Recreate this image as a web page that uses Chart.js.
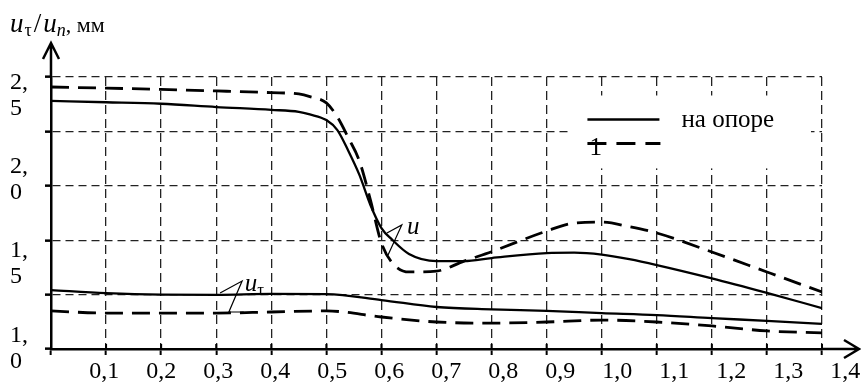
<!DOCTYPE html>
<html>
<head>
<meta charset="utf-8">
<script src="https://cdn.jsdelivr.net/npm/chart.js@4.4.0/dist/chart.umd.min.js"></script>
<style>
html, body { margin: 0; padding: 0; background: #fff; }
canvas { display: block; }
</style>
</head>
<body>
<canvas id="chart" width="861" height="390"></canvas>
<script>
// x = distance, y = displacement (internal units, gridlines every 0.25)
var xU = [0, 0.1, 0.2, 0.3, 0.4, 0.45, 0.47, 0.5, 0.52, 0.54, 0.56, 0.58, 0.6, 0.62, 0.65, 0.7, 0.75, 0.8, 0.9, 0.95, 1.0, 1.05, 1.1, 1.2, 1.3, 1.4];
var uSolid = [2.14, 2.134, 2.127, 2.112, 2.099, 2.09, 2.078, 2.052, 2.006, 1.91, 1.80, 1.662, 1.556, 1.501, 1.437, 1.404, 1.404, 1.418, 1.441, 1.443, 1.434, 1.413, 1.386, 1.325, 1.258, 1.188];
var uDashed = [2.204, 2.199, 2.193, 2.186, 2.178, 2.172, 2.16, 2.131, 2.066, 1.97, 1.864, 1.685, 1.487, 1.395, 1.354, 1.358, 1.404, 1.447, 1.542, 1.579, 1.583, 1.562, 1.533, 1.446, 1.354, 1.262];

var xTau = [0, 0.1, 0.2, 0.3, 0.4, 0.5, 0.6, 0.7, 0.8, 0.9, 1.0, 1.1, 1.2, 1.3, 1.4];
var tauSolid = [1.271, 1.257, 1.25, 1.249, 1.253, 1.252, 1.225, 1.193, 1.182, 1.175, 1.165, 1.156, 1.142, 1.129, 1.115];
var tauDashed = [1.175, 1.165, 1.165, 1.165, 1.170, 1.175, 1.147, 1.124, 1.119, 1.124, 1.133, 1.124, 1.106, 1.083, 1.074];

var xGridVals = [0, 0.1, 0.2, 0.3, 0.4, 0.5, 0.6, 0.7, 0.8, 0.9, 1.0, 1.1, 1.2, 1.3, 1.4];
var xLabels = ['0,1', '0,2', '0,3', '0,4', '0,5', '0,6', '0,7', '0,8', '0,9', '1,0', '1,1', '1,2', '1,3', '1,4'];
var yGridVals = [1.0, 1.25, 1.5, 1.75, 2.0, 2.25];
var yLabelVals = [1.0, 1.393, 1.779, 2.165];
var yLabels = [['1,', '0'], ['1,', '5'], ['2,', '0'], ['2,', '5']];
var legendLabels = ['на опоре', '1'];

var SERIF = '"Liberation Serif", "Times New Roman", serif';

// labels in the source are spread a bit wider than the grid
var xLabelVals = xLabels.map(function (t, i) { return (i + 1) / 10 * 1.035 - 0.007; });

function pts(xs, ys) {
    return xs.map(function (x, i) { return { x: x, y: ys[i] }; });
}

function isIn(list, v) {
    return list.indexOf(v) !== -1;
}

var decorPlugin = {
    id: 'decor',
    afterDatasetsDraw: function (chart) {
        var ctx = chart.ctx;
        var xs = chart.scales.x, ys = chart.scales.y;
        function P(x, y) { return [xs.getPixelForValue(x), ys.getPixelForValue(y)]; }
        ctx.save();

        // legend box
        var lx = xs.getPixelForValue(0.945), rx = xs.getPixelForValue(1.38);
        var ty = ys.getPixelForValue(2.165), by = ys.getPixelForValue(1.83);
        ctx.fillStyle = '#fff';
        ctx.fillRect(lx, ty, rx - lx, by - ty);
        ctx.strokeStyle = '#000';
        ctx.lineWidth = 2.5;
        ctx.beginPath();
        ctx.moveTo(lx + 16, ty + 24);
        ctx.lineTo(lx + 88, ty + 24);
        ctx.stroke();
        ctx.lineWidth = 3;
        ctx.setLineDash([19, 10]);
        ctx.beginPath();
        ctx.moveTo(lx + 16, ty + 48);
        ctx.lineTo(lx + 89, ty + 48);
        ctx.stroke();
        ctx.setLineDash([]);
        ctx.fillStyle = '#000';
        ctx.font = '25px ' + SERIF;
        ctx.textBaseline = 'alphabetic';
        ctx.fillText(legendLabels[0], lx + 110, ty + 32);
        ctx.fillText(legendLabels[1], lx + 18, ty + 60);

        // curve notes
        ctx.lineWidth = 1.2;
        var o = P(0.637, 1.57), e1 = P(0.610, 1.533), e2 = P(0.612, 1.432);
        ctx.beginPath();
        ctx.moveTo(e1[0], e1[1]); ctx.lineTo(o[0], o[1]); ctx.lineTo(e2[0], e2[1]);
        ctx.stroke();
        var t = P(0.6465, 1.528);
        ctx.font = 'italic 25px ' + SERIF;
        ctx.fillText('u', t[0], t[1]);

        o = P(0.347, 1.3125);
        e1 = P(0.307, 1.257);
        e2 = P(0.323, 1.170);
        var e3 = P(0.350, 1.170);
        ctx.beginPath();
        ctx.moveTo(e1[0], e1[1]); ctx.lineTo(o[0], o[1]);
        ctx.lineTo(e2[0], e2[1]); ctx.lineTo(e3[0], e3[1]);
        ctx.stroke();
        t = P(0.352, 1.266);
        ctx.font = 'italic 25px ' + SERIF;
        ctx.fillText('u', t[0], t[1]);
        var w = ctx.measureText('u').width;
        ctx.font = '17px ' + SERIF;
        ctx.fillText('τ', t[0] + w, t[1] + 4);
        ctx.restore();
    },
    afterDraw: function (chart) {
        var ctx = chart.ctx;
        var a = chart.chartArea;
        var xs = chart.scales.x;
        ctx.save();
        ctx.strokeStyle = '#000';
        ctx.lineWidth = 2.5;
        ctx.lineCap = 'butt';
        // y axis arrow
        ctx.beginPath();
        ctx.moveTo(a.left, a.top);
        ctx.lineTo(a.left, a.top - 34);
        ctx.moveTo(a.left - 8, a.top - 18);
        ctx.lineTo(a.left, a.top - 34);
        ctx.lineTo(a.left + 8, a.top - 18);
        ctx.stroke();
        // x axis arrow
        ctx.beginPath();
        ctx.moveTo(a.right, a.bottom);
        ctx.lineTo(a.right + 37, a.bottom);
        ctx.moveTo(a.right + 22, a.bottom - 9);
        ctx.lineTo(a.right + 37, a.bottom);
        ctx.lineTo(a.right + 22, a.bottom + 9);
        ctx.stroke();
        // tick marks crossing the x axis
        ctx.lineWidth = 2;
        xGridVals.forEach(function (v) {
            var px = xs.getPixelForValue(v);
            ctx.beginPath();
            ctx.moveTo(px, a.bottom - 5);
            ctx.lineTo(px, a.bottom);
            ctx.stroke();
        });
        // axis title
        ctx.fillStyle = '#000';
        ctx.textBaseline = 'alphabetic';
        var x = 10, base = 32;
        ctx.font = 'italic 27px ' + SERIF;
        ctx.fillText('u', x, base); x += ctx.measureText('u').width + 1;
        ctx.font = '18px ' + SERIF;
        ctx.fillText('τ', x, base + 4); x += ctx.measureText('τ').width + 2;
        ctx.font = '27px ' + SERIF;
        ctx.fillText('/', x, base); x += ctx.measureText('/').width + 2;
        ctx.font = 'italic 27px ' + SERIF;
        ctx.fillText('u', x, base); x += ctx.measureText('u').width;
        ctx.font = 'italic 18px ' + SERIF;
        ctx.fillText('n', x, base + 4); x += ctx.measureText('n').width;
        ctx.font = '22px ' + SERIF;
        ctx.fillText(', мм', x, base);
        ctx.restore();
    }
};

var ctx = document.getElementById('chart').getContext('2d');
var chart = new Chart(ctx, {
    type: 'line',
    data: {
        datasets: [
            { data: pts(xU, uSolid), borderColor: '#000', borderWidth: 2.3 },
            { data: pts(xU, uDashed), borderColor: '#000', borderWidth: 2.8, borderDash: [18, 9] },
            { data: pts(xTau, tauSolid), borderColor: '#000', borderWidth: 2.3 },
            { data: pts(xTau, tauDashed), borderColor: '#000', borderWidth: 2.8, borderDash: [18, 9] }
        ]
    },
    options: {
        responsive: false,
        animation: false,
        devicePixelRatio: 1,
        layout: { padding: { top: 77, right: 39, bottom: 0, left: 10 } },
        elements: {
            point: { radius: 0 },
            line: { cubicInterpolationMode: 'monotone', fill: false }
        },
        plugins: { legend: { display: false }, tooltip: { enabled: false } },
        scales: {
            x: {
                type: 'linear',
                min: 0,
                max: 1.4,
                afterBuildTicks: function (s) {
                    s.ticks = xGridVals.concat(xLabelVals).map(function (v) { return { value: v }; });
                },
                afterFit: function (s) { s.height = 41; },
                grid: {
                    color: function (c) { return isIn(xGridVals, c.tick.value) ? '#222' : 'rgba(0,0,0,0)'; },
                    tickColor: function (c) { return isIn(xGridVals, c.tick.value) ? '#000' : 'rgba(0,0,0,0)'; },
                    lineWidth: 1.3,
                    tickBorderDash: [],
                    tickLength: 6,
                    tickWidth: 2
                },
                border: { display: true, color: '#000', width: 2.5, dash: [9, 5] },
                ticks: {
                    autoSkip: false,
                    maxRotation: 0,
                    padding: 2,
                    color: '#000',
                    font: { family: SERIF, size: 24 },
                    callback: function (v) {
                        var i = xLabelVals.indexOf(v);
                        return i === -1 ? '' : xLabels[i];
                    }
                }
            },
            y: {
                type: 'linear',
                min: 1.0,
                max: 2.25,
                afterBuildTicks: function (s) {
                    var vals = yGridVals.slice();
                    yLabelVals.forEach(function (v) { if (!isIn(vals, v)) vals.push(v); });
                    s.ticks = vals.map(function (v) { return { value: v }; });
                },
                afterFit: function (s) { s.width = 41; },
                grid: {
                    color: function (c) { return isIn(yGridVals, c.tick.value) ? '#222' : 'rgba(0,0,0,0)'; },
                    tickColor: function (c) { return isIn(yGridVals, c.tick.value) ? '#000' : 'rgba(0,0,0,0)'; },
                    lineWidth: 1.3,
                    tickBorderDash: [],
                    tickLength: 6,
                    tickWidth: 2.5
                },
                border: { display: true, color: '#000', width: 2.5, dash: [8, 5] },
                ticks: {
                    autoSkip: false,
                    crossAlign: 'far',
                    color: '#000',
                    font: { family: SERIF, size: 24, lineHeight: 1.08 },
                    callback: function (v) {
                        var i = yLabelVals.indexOf(v);
                        return i === -1 ? '' : yLabels[i];
                    }
                }
            }
        }
    },
    plugins: [decorPlugin]
});
</script>
</body>
</html>
